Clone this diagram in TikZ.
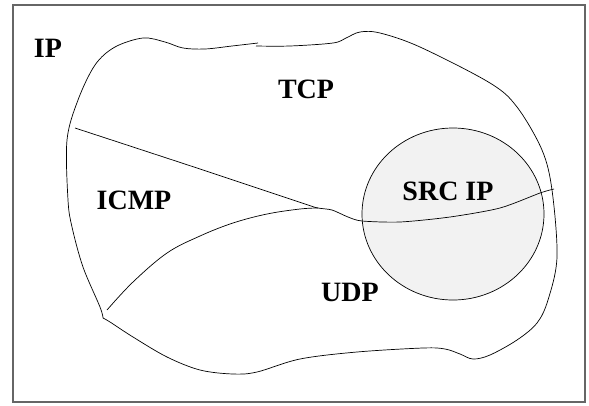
\documentclass[tikz,border=0pt]{standalone}
\usepackage{fontspec}
\setmainfont{Liberation Serif}
\begin{document}
\begin{tikzpicture}[x=1pt,y=-1pt,
  lbl/.style={font=\fontsize{28}{32}\selectfont\bfseries, inner sep=0pt},
  curve/.style={draw=black, line width=0.7pt},
  frame/.style={draw=black!60, line width=1.1pt}]
\useasboundingbox (0,0) rectangle (589,405);
\draw[frame] (13,5) rectangle (585,402);
% source IP region
\fill[black!5] (453,214) ellipse [x radius=91, y radius=86];
\draw[curve] (453,214) ellipse [x radius=91, y radius=86];
% outer IP blob
\draw[curve] plot[smooth, tension=0.55] coordinates {
  (103,318) (100,307) (83,267) (72,227) (68,200) (67,140) (78,100) (95,65)
  (115,47) (143,38) (165,42) (183,48) (205,49) (232,46) (258,43)};
\draw[curve] plot[smooth, tension=0.55] coordinates {
  (256,46) (290,46) (333,43) (346,38) (360,32) (380,33) (420,47) (490,83)
  (517,107) (542,150) (552,190) (557,257) (548,300) (537,323) (517,340)
  (490,355) (473,359) (460,354) (445,349) (423,348) (357,352) (300,359)
  (257,372) (233,374) (200,370) (167,357) (133,337) (110,322) (103,318)};
% TCP / ICMP divide
\draw[curve] plot[smooth, tension=0.45] coordinates {
  (75,128) (200,169) (305,204) (318,208) (332,210) (348,217) (362,221)
  (400,222) (450,217) (500,208) (540,193) (554,189)};
% ICMP / UDP divide
\draw[curve] plot[smooth, tension=0.6] coordinates {
  (107,310) (133,282) (167,253) (200,236) (233,223) (267,214) (300,209) (318,208)};
% labels
\node[lbl] (ip) at (48,48) {IP};
\node[lbl] (tcp) at (306,89) {TCP};
\node[lbl] (icmp) at (134,200) {ICMP};
\node[lbl] (src) at (448,191) {SRC IP};
\node[lbl] (udp) at (350,292) {UDP};
\end{tikzpicture}
\end{document}
